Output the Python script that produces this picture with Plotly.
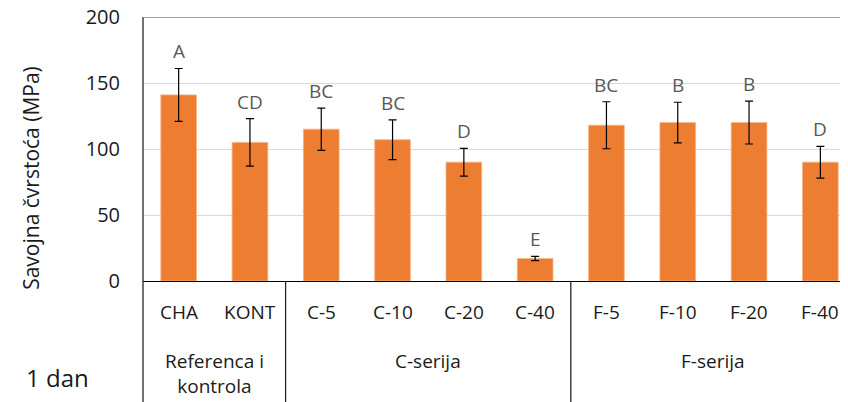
import plotly.graph_objects as go

categories = ["CHA", "KONT", "C-5", "C-10", "C-20", "C-40", "F-5", "F-10", "F-20", "F-40"]
values = [141, 105, 115, 107, 90, 17, 118, 120, 120, 90]
errors = [20, 18, 16, 15, 10.5, 1.6, 17.8, 15.4, 16.2, 12]
letters = ["A", "CD", "BC", "BC", "D", "E", "BC", "B", "B", "D"]
groups = ["Referenca i<br>kontrola", "C-serija", "F-serija"]
group_sizes = [2, 4, 4]
y_ticks = [0, 50, 100, 150, 200]
y_title = "Savojna čvrstoća (MPa)"
panel_label = "1 dan"

FONT = "Open Sans"
TXT = "#1a1a1a"

fig = go.Figure()
fig.add_trace(go.Bar(
    x=categories, y=values, width=0.5,
    marker=dict(color="#ED7D31", line=dict(color="#F4B183", width=0.8)),
    error_y=dict(type="data", array=errors, visible=True, color="#000000",
                 thickness=1.2, width=4),
    showlegend=False,
))

annotations = []
# significance letters
for c, v, e, t in zip(categories, values, errors, letters):
    annotations.append(dict(x=c, y=v + e, xref="x", yref="y", text=t, showarrow=False,
                            yanchor="middle", xanchor="center", yshift=17,
                            font=dict(family=FONT, size=19, color="#595959")))
# category labels
for c in categories:
    annotations.append(dict(x=c, y=-0.117, xref="x", yref="paper", text=c, showarrow=False,
                            yanchor="middle", xanchor="center",
                            font=dict(family=FONT, size=19, color=TXT)))
# group labels and separators
shapes = []
start = 0
for g, n in zip(groups, group_sizes):
    center = start + (n - 1) / 2
    annotations.append(dict(x=center, y=-0.245, xref="x", yref="paper", text=g, showarrow=False,
                            yanchor="top", xanchor="center",
                            font=dict(family=FONT, size=19, color=TXT)))
    if start > 0:
        shapes.append(dict(type="line", xref="x", yref="paper", x0=start - 0.5, x1=start - 0.5,
                           y0=0, y1=-0.47, line=dict(color="#262626", width=1.3)))
    start += n

# left axis line extended downward
shapes.append(dict(type="line", xref="paper", yref="paper", x0=0, x1=0, y0=-0.47, y1=1,
                   line=dict(color="#262626", width=1.3)))
# top border
shapes.append(dict(type="line", xref="paper", yref="y", x0=0, x1=1, y0=200, y1=200,
                   line=dict(color="#7f7f7f", width=1.5)))

annotations.append(dict(x=-0.158, y=0.392, xref="paper", yref="paper", text=y_title,
                        showarrow=False, textangle=-90, xanchor="center", yanchor="middle",
                        font=dict(family=FONT, size=21, color=TXT)))
annotations.append(dict(x=-0.12, y=-0.364, xref="paper", yref="paper", text=panel_label,
                        showarrow=False, xanchor="center", yanchor="middle",
                        font=dict(family=FONT, size=24, color=TXT)))

fig.update_layout(
    width=848, height=402,
    margin=dict(l=135, r=0, t=9, b=129, autoexpand=False),
    plot_bgcolor="white", paper_bgcolor="white",
    font=dict(family=FONT, color=TXT),
    annotations=annotations, shapes=shapes,
    bargap=0.5,
)
fig.update_xaxes(type="category", categoryorder="array", categoryarray=categories,
                 range=[-0.5, 9.5], showticklabels=False, ticks="", automargin=False,
                 showline=True, linecolor="#000000", linewidth=1.2,
                 showgrid=False, zeroline=False)
fig.update_yaxes(range=[0, 200], tickvals=y_ticks, ticks="", ticklabelstandoff=22,
                 automargin=False, ticklabeloverflow="allow",
                 tickfont=dict(family=FONT, size=20, color=TXT),
                 showgrid=True, gridcolor="#d9d9d9", gridwidth=1.3,
                 showline=False, zeroline=False)

fig.write_html("out.html")
